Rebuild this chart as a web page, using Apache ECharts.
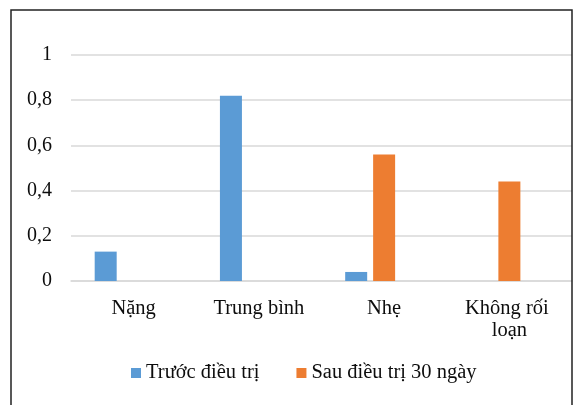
<!DOCTYPE html>
<html>
<head>
<meta charset="utf-8">
<script src="https://cdn.jsdelivr.net/npm/echarts@6/dist/echarts.min.js"></script>
<style>
  html, body { margin: 0; padding: 0; background: #fff; }
  #chart { width: 575px; height: 405px; }
</style>
</head>
<body>
<div id="chart"></div>
<script>
// Mức độ rối loạn: trước và sau 30 ngày điều trị (tỉ lệ)
const categories = ['Nặng', 'Trung bình', 'Nhẹ', 'Không rối loạn'];
const seriesNames = ['Trước điều trị', 'Sau điều trị 30 ngày'];
const beforeValues = [0.13, 0.82, 0.04, 0];
const afterValues = [0, 0, 0.56, 0.44];
// third slot of each category group stays empty
const emptySlot = [null, null, null, null];
const yTicks = [0, 0.2, 0.4, 0.6, 0.8, 1];

const FONT = '"Liberation Serif", "DejaVu Serif", serif';
const TEXT = '#0d0d0d';

const chart = echarts.init(document.getElementById('chart'), null, { renderer: 'canvas' });

chart.setOption({
  animation: false,
  backgroundColor: '#fff',
  textStyle: { fontFamily: FONT },
  graphic: [{
    type: 'rect',
    shape: { x: 11, y: 10, width: 561, height: 420 },
    style: { fill: 'none', stroke: '#222', lineWidth: 1.5 },
    silent: true,
    z: 100
  }],
  grid: { left: 71, right: 3, top: 55, bottom: 124, containLabel: false },
  legend: {
    data: seriesNames,
    left: 131,
    top: 362,
    padding: 0,
    itemWidth: 10,
    itemHeight: 10,
    itemGap: 37,
    icon: 'rect',
    textStyle: { fontFamily: FONT, fontSize: 20.5, color: TEXT, lineHeight: 22 }
  },
  xAxis: {
    type: 'category',
    data: categories,
    axisLine: { lineStyle: { color: '#d9d9d9', width: 1.5 } },
    axisTick: { show: false },
    axisLabel: {
      fontFamily: FONT,
      fontSize: 20.5,
      color: TEXT,
      margin: 17,
      lineHeight: 22,
      width: 112,
      overflow: 'break',
      interval: 0
    }
  },
  yAxis: {
    type: 'value',
    min: yTicks[0],
    max: yTicks[yTicks.length - 1],
    interval: 0.2,
    axisLine: { show: false },
    axisTick: { show: false },
    splitLine: { lineStyle: { color: '#d9d9d9', width: 1.5 } },
    axisLabel: {
      fontFamily: FONT,
      fontSize: 20,
      color: TEXT,
      margin: 19,
      formatter: v => String(Math.round(v * 10) / 10).replace('.', ',')
    }
  },
  series: [
    {
      name: seriesNames[0],
      type: 'bar',
      data: beforeValues,
      barWidth: 22,
      barGap: '27%',
      itemStyle: { color: '#5B9BD5' }
    },
    {
      name: seriesNames[1],
      type: 'bar',
      data: afterValues,
      barWidth: 22,
      barGap: '27%',
      itemStyle: { color: '#ED7D31' }
    },
    {
      name: 'spacer',
      type: 'bar',
      data: emptySlot,
      barWidth: 22,
      barGap: '27%',
      itemStyle: { color: '#A5A5A5' }
    }
  ]
});
</script>
</body>
</html>
